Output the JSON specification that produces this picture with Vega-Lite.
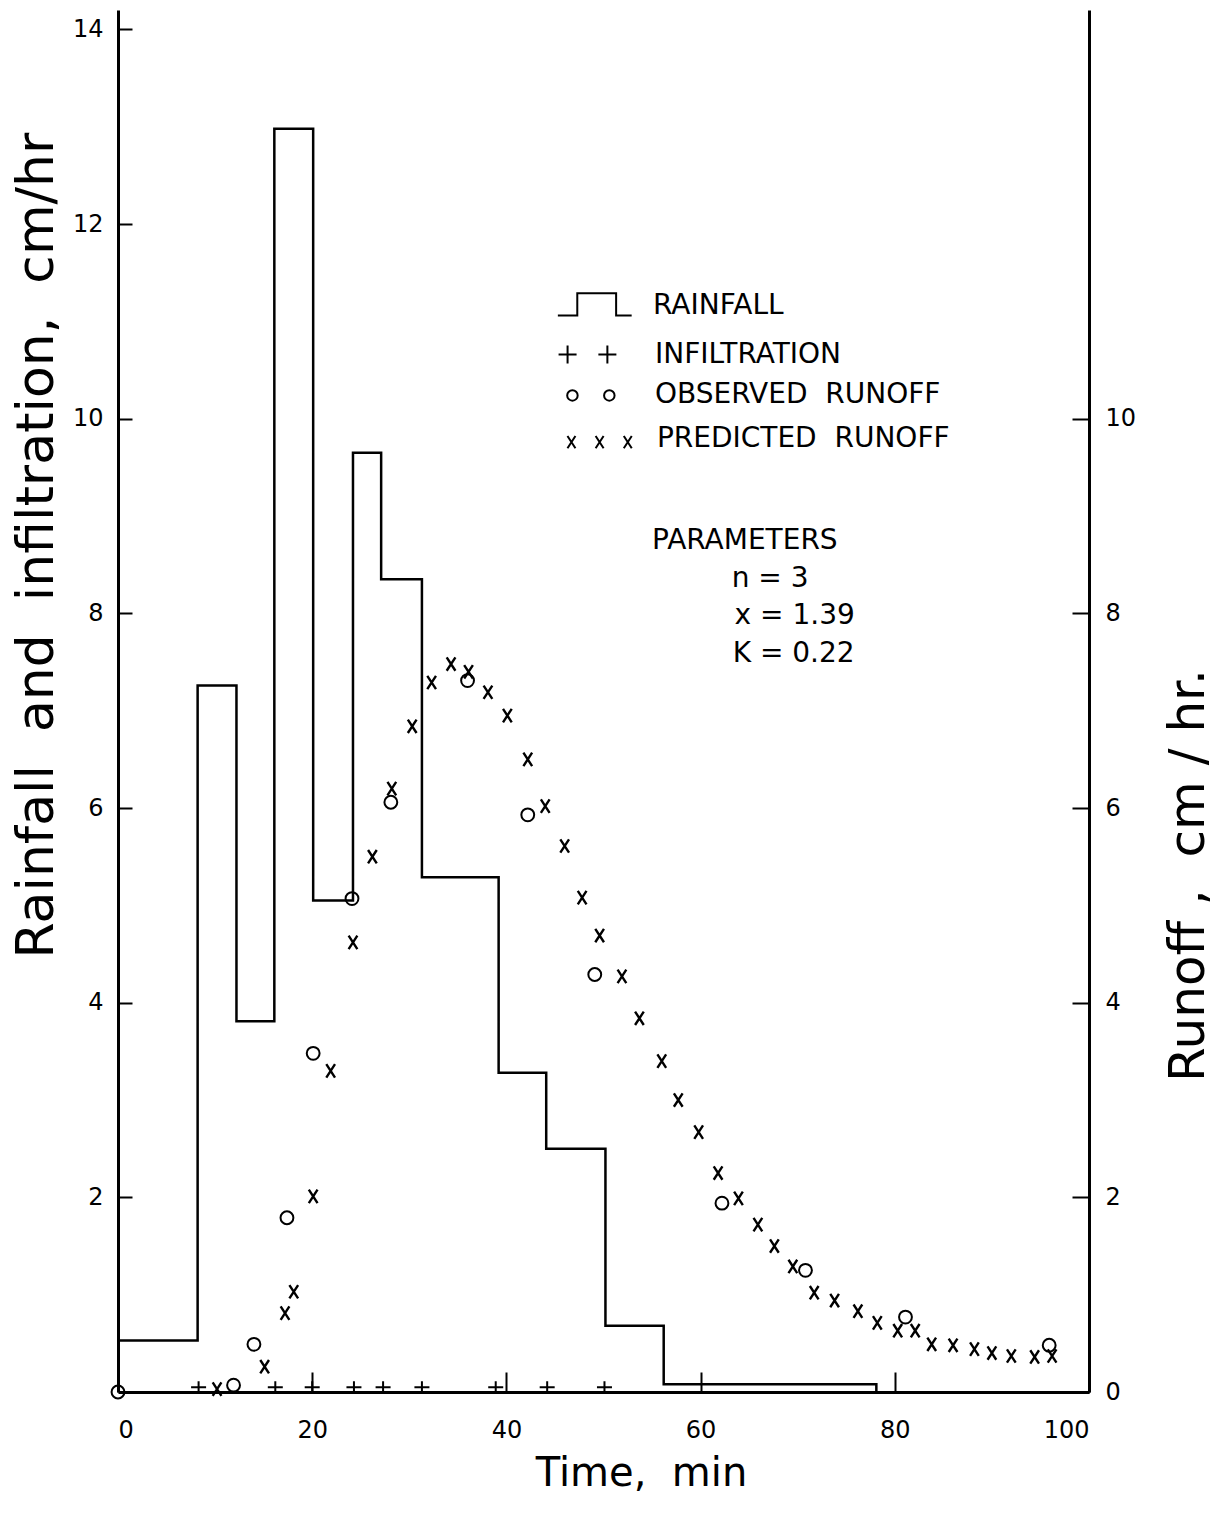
{
  "$schema": "https://vega.github.io/schema/vega-lite/v6.json",
  "width": 971,
  "height": 1382,
  "autosize": "none",
  "padding": {"left": 118, "top": 10, "right": 127, "bottom": 130},
  "background": "white",
  "config": {
    "view": {"stroke": null},
    "font": "DejaVu Sans",
    "axis": {
      "grid": false,
      "domainColor": "black",
      "domainWidth": 3,
      "tickColor": "black",
      "tickWidth": 2,
      "labelColor": "black",
      "labelFont": "DejaVu Sans",
      "labelFontSize": 24,
      "titleFont": "DejaVu Sans",
      "titleFontWeight": "normal",
      "titleColor": "black",
      "format": "d"
    }
  },
  "datasets": {
    "rainfall": [
      {"t": 0, "v": 0.53}, {"t": 8.2, "v": 7.26}, {"t": 12.2, "v": 3.81}, {"t": 16.1, "v": 12.98},
      {"t": 20.1, "v": 5.05}, {"t": 24.2, "v": 9.65}, {"t": 27.1, "v": 8.35}, {"t": 31.3, "v": 5.29},
      {"t": 39.2, "v": 3.28}, {"t": 44.1, "v": 2.5}, {"t": 50.2, "v": 0.68}, {"t": 56.2, "v": 0.08},
      {"t": 78.1, "v": 0}
    ],
    "infiltration": [
      {"t": 8.3, "v": 0.05}, {"t": 16.2, "v": 0.05}, {"t": 20.0, "v": 0.05}, {"t": 24.3, "v": 0.05},
      {"t": 27.3, "v": 0.05}, {"t": 31.3, "v": 0.05}, {"t": 38.9, "v": 0.05}, {"t": 44.2, "v": 0.05},
      {"t": 50.1, "v": 0.05}
    ],
    "observed": [
      {"t": 0, "v": 0}, {"t": 11.9, "v": 0.07}, {"t": 14.0, "v": 0.49}, {"t": 17.4, "v": 1.79},
      {"t": 20.1, "v": 3.48}, {"t": 24.1, "v": 5.07}, {"t": 28.1, "v": 6.06}, {"t": 36.0, "v": 7.31},
      {"t": 42.2, "v": 5.93}, {"t": 49.1, "v": 4.29}, {"t": 62.2, "v": 1.94}, {"t": 70.8, "v": 1.25},
      {"t": 81.1, "v": 0.77}, {"t": 95.9, "v": 0.48}
    ],
    "predicted": [
      {"t": 10.2, "v": 0.03}, {"t": 15.1, "v": 0.26}, {"t": 17.2, "v": 0.81}, {"t": 18.1, "v": 1.03},
      {"t": 20.1, "v": 2.01}, {"t": 21.9, "v": 3.30}, {"t": 24.2, "v": 4.62}, {"t": 26.2, "v": 5.50},
      {"t": 28.2, "v": 6.20}, {"t": 30.3, "v": 6.84}, {"t": 32.3, "v": 7.29}, {"t": 34.3, "v": 7.48},
      {"t": 36.1, "v": 7.40}, {"t": 38.1, "v": 7.19}, {"t": 40.1, "v": 6.95}, {"t": 42.2, "v": 6.50},
      {"t": 44.0, "v": 6.02}, {"t": 46.0, "v": 5.61}, {"t": 47.8, "v": 5.08}, {"t": 49.6, "v": 4.69},
      {"t": 51.9, "v": 4.27}, {"t": 53.7, "v": 3.84}, {"t": 56.0, "v": 3.40}, {"t": 57.7, "v": 3.00},
      {"t": 59.8, "v": 2.67}, {"t": 61.8, "v": 2.25}, {"t": 63.9, "v": 1.99}, {"t": 65.9, "v": 1.72},
      {"t": 67.6, "v": 1.50}, {"t": 69.5, "v": 1.29}, {"t": 71.7, "v": 1.02}, {"t": 73.8, "v": 0.94},
      {"t": 76.2, "v": 0.83}, {"t": 78.2, "v": 0.71}, {"t": 80.3, "v": 0.63}, {"t": 82.1, "v": 0.63},
      {"t": 83.8, "v": 0.49}, {"t": 86.0, "v": 0.48}, {"t": 88.2, "v": 0.44}, {"t": 90.0, "v": 0.40},
      {"t": 92.0, "v": 0.37}, {"t": 94.4, "v": 0.36}, {"t": 96.2, "v": 0.37}
    ],
    "legend_step": [
      {"t": 45.3, "v": 11.06}, {"t": 47.3, "v": 11.29}, {"t": 51.3, "v": 11.06}, {"t": 52.9, "v": 11.06}
    ],
    "legend_plus": [{"t": 46.3, "v": 10.66}, {"t": 50.4, "v": 10.66}],
    "legend_circle": [{"t": 46.8, "v": 10.24}, {"t": 50.6, "v": 10.24}],
    "legend_cross": [{"t": 46.7, "v": 9.76}, {"t": 49.6, "v": 9.76}, {"t": 52.5, "v": 9.76}],
    "notes": [
      {"label": "RAINFALL", "t": 55.1, "v": 11.16},
      {"label": "INFILTRATION", "t": 55.3, "v": 10.66},
      {"label": "OBSERVED\u00a0\u00a0RUNOFF", "t": 55.3, "v": 10.24},
      {"label": "PREDICTED\u00a0\u00a0RUNOFF", "t": 55.5, "v": 9.79},
      {"label": "PARAMETERS", "t": 55.0, "v": 8.74},
      {"label": "n = 3", "t": 63.2, "v": 8.35},
      {"label": "x = 1.39", "t": 63.5, "v": 7.97},
      {"label": "K = 0.22", "t": 63.3, "v": 7.58}
    ]
  },
  "layer": [
    {
      "layer": [
        {
          "data": {"name": "rainfall"},
          "mark": {"type": "line", "interpolate": "step-after", "color": "black", "strokeWidth": 2.5},
          "encoding": {
            "x": {"field": "t", "type": "quantitative", "scale": {"domain": [0, 100], "nice": false},
              "axis": {"values": [0, 20, 40, 60, 80, 100], "tickSize": -20, "labelPadding": 46,
                "title": "Time,\u00a0\u00a0min", "titleFontSize": 40, "titleBaseline": "alphabetic",
                "titleAlign": "center", "titleX": 523, "titleY": 93}},
            "y": {"field": "v", "type": "quantitative", "scale": {"domain": [0, 14.2], "nice": false},
              "axis": {"values": [2, 4, 6, 8, 10, 12, 14], "tickSize": -14, "labelPadding": 29,
                "title": "Rainfall\u00a0\u00a0and\u00a0\u00a0infiltration,\u00a0\u00a0cm/hr", "titleFontSize": 52, "titleAngle": 270,
                "titleAlign": "center", "titleBaseline": "middle", "titleX": -82, "titleY": 535}}
          }
        },
        {
          "data": {"name": "infiltration"},
          "mark": {"type": "point", "shape": "M-1,0L1,0M0,-0.8L0,0.8", "filled": false, "stroke": "black", "strokeWidth": 2, "size": 225, "opacity": 1},
          "encoding": {
            "x": {"field": "t", "type": "quantitative", "scale": {"domain": [0, 100], "nice": false}},
            "y": {"field": "v", "type": "quantitative", "scale": {"domain": [0, 14.2], "nice": false}}
          }
        },
        {
          "data": {"name": "legend_step"},
          "mark": {"type": "line", "interpolate": "step-after", "color": "black", "strokeWidth": 2},
          "encoding": {
            "x": {"field": "t", "type": "quantitative", "scale": {"domain": [0, 100], "nice": false}},
            "y": {"field": "v", "type": "quantitative", "scale": {"domain": [0, 14.2], "nice": false}}
          }
        },
        {
          "data": {"name": "legend_plus"},
          "mark": {"type": "point", "shape": "M-1,0L1,0M0,-1L0,1", "filled": false, "stroke": "black", "strokeWidth": 2, "size": 324, "opacity": 1},
          "encoding": {
            "x": {"field": "t", "type": "quantitative", "scale": {"domain": [0, 100], "nice": false}},
            "y": {"field": "v", "type": "quantitative", "scale": {"domain": [0, 14.2], "nice": false}}
          }
        },
        {
          "data": {"name": "legend_circle"},
          "mark": {"type": "point", "shape": "circle", "filled": false, "stroke": "black", "strokeWidth": 2, "size": 110, "opacity": 1},
          "encoding": {
            "x": {"field": "t", "type": "quantitative", "scale": {"domain": [0, 100], "nice": false}},
            "y": {"field": "v", "type": "quantitative", "scale": {"domain": [0, 14.2], "nice": false}}
          }
        },
        {
          "data": {"name": "legend_cross"},
          "mark": {"type": "point", "shape": "M-0.65,-1L0.65,1M-0.65,1L0.65,-1", "filled": false, "stroke": "black", "strokeWidth": 2, "size": 150, "opacity": 1},
          "encoding": {
            "x": {"field": "t", "type": "quantitative", "scale": {"domain": [0, 100], "nice": false}},
            "y": {"field": "v", "type": "quantitative", "scale": {"domain": [0, 14.2], "nice": false}}
          }
        },
        {
          "data": {"name": "notes"},
          "mark": {"type": "text", "align": "left", "baseline": "middle", "fontSize": 28, "font": "DejaVu Sans", "color": "black"},
          "encoding": {
            "x": {"field": "t", "type": "quantitative", "scale": {"domain": [0, 100], "nice": false}},
            "y": {"field": "v", "type": "quantitative", "scale": {"domain": [0, 14.2], "nice": false}},
            "text": {"field": "label"}
          }
        }
      ]
    },
    {
      "layer": [
        {
          "data": {"name": "observed"},
          "mark": {"type": "point", "shape": "circle", "filled": false, "stroke": "black", "strokeWidth": 2, "size": 165, "opacity": 1},
          "encoding": {
            "x": {"field": "t", "type": "quantitative", "scale": {"domain": [0, 100], "nice": false}},
            "y": {"field": "v", "type": "quantitative", "scale": {"domain": [0, 14.2], "nice": false},
              "axis": {"orient": "right", "values": [0, 2, 4, 6, 8, 10], "tickSize": -17, "labelPadding": 33,
                "title": "Runoff\u00a0,\u00a0\u00a0cm\u00a0/\u00a0hr.", "titleFontSize": 50, "titleAngle": 270,
                "titleAlign": "center", "titleBaseline": "middle", "titleX": 99, "titleY": 865}}
          }
        },
        {
          "data": {"name": "predicted"},
          "mark": {"type": "point", "shape": "M-0.65,-1L0.65,1M-0.65,1L0.65,-1", "filled": false, "stroke": "black", "strokeWidth": 2.4, "size": 180, "opacity": 1},
          "encoding": {
            "x": {"field": "t", "type": "quantitative", "scale": {"domain": [0, 100], "nice": false}},
            "y": {"field": "v", "type": "quantitative", "scale": {"domain": [0, 14.2], "nice": false}}
          }
        }
      ]
    }
  ],
  "resolve": {"scale": {"y": "independent"}}
}
